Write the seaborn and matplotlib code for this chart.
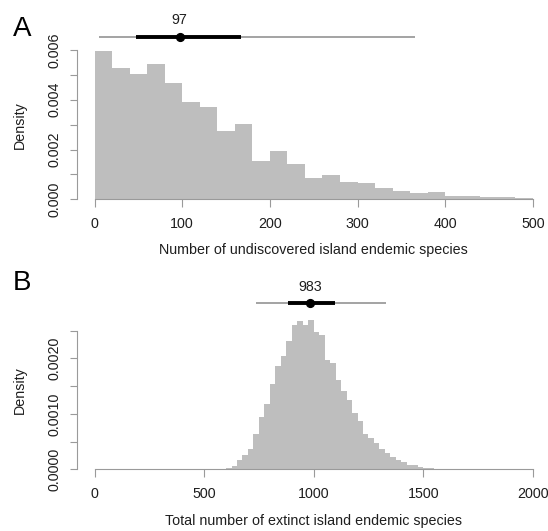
import numpy as np
import pandas as pd
import matplotlib
matplotlib.use("Agg")
import matplotlib.pyplot as plt
import seaborn as sns
from matplotlib.ticker import FixedLocator, FixedFormatter

# ---------------- data ----------------
# Panel A: undiscovered island endemic species (bin width 20)
a_bin_width = 20
a_density = [0.00597, 0.00527, 0.00502, 0.00542, 0.00466, 0.00391, 0.00372,
             0.00274, 0.00301, 0.00154, 0.00195, 0.00143, 0.00084, 0.00099,
             0.00070, 0.00066, 0.00044, 0.00035, 0.00025, 0.00028, 0.00012,
             0.00015, 0.00011, 0.00008, 0.00005]
a_start = 0
a_median = 97
a_ci_inner = [47, 167]
a_ci_outer = [5, 366]
a_xticks = [0, 100, 200, 300, 400, 500]
a_yticks = [0.000, 0.001, 0.002, 0.003, 0.004, 0.005, 0.006]
a_yticklabels = ["0.000", "", "0.002", "", "0.004", "", "0.006"]
a_xlabel = "Number of undiscovered island endemic species"

# Panel B: total extinct island endemic species (bin width 25)
b_bin_width = 25
b_density = [0.000002, 0.000003, 0.000005, 0.000008, 0.000018, 0.00006,
             0.00016, 0.00026, 0.00037, 0.00064, 0.00095, 0.00118, 0.00153,
             0.00186, 0.00205, 0.00232, 0.00260, 0.00267, 0.00261, 0.00269,
             0.00248, 0.00243, 0.00198, 0.00191, 0.00161, 0.00142, 0.00125,
             0.00101, 0.00087, 0.00064, 0.00056, 0.00047, 0.00036, 0.00030,
             0.00022, 0.00017, 0.00013, 0.00008, 0.00007, 0.00004, 0.000025,
             0.000015, 0.00001, 0.000007, 0.000005, 0.000003, 0.000002,
             0.000001]
b_start = 500
b_median = 983
b_ci_inner = [883, 1095]
b_ci_outer = [736, 1331]
b_xticks = [0, 500, 1000, 1500, 2000]
b_yticks = [0.0000, 0.0005, 0.0010, 0.0015, 0.0020, 0.0025]
b_yticklabels = ["0.0000", "", "0.0010", "", "0.0020", ""]
b_xlabel = "Total number of extinct island endemic species"

# ---------------- style ----------------
sns.set_style("white")
plt.rcParams["font.family"] = ["Liberation Sans", "DejaVu Sans"]

W, H = 548, 531
fig = plt.figure(figsize=(W / 100, H / 100), dpi=100)

BAR = "#bebebe"
AXC = "#9a9a9a"
TXT = "#1e1e1e"
FS = 10.3


def make_panel(density, start, width, xticks, yticks, yticklabels, xlabel,
               median, ci_in, ci_out, letter,
               top_px, bottom_px, ytick_top_px, interval_px, label_px,
               letter_base_px, xlabel_base_px, ylabel_center_px):
    left_px, right_px = 76.8, 545.0
    x0_px, x1_px = 94.6, 532.8
    ax = fig.add_axes([left_px / W, 1 - bottom_px / H,
                       (right_px - left_px) / W, (bottom_px - top_px) / H])
    kx = (x1_px - x0_px) / (xticks[-1] - xticks[0])
    ky = (bottom_px - ytick_top_px) / yticks[-1]

    n = len(density)
    lefts = [start + width * i for i in range(n)]
    centers = [l + width / 2 for l in lefts]
    df = pd.DataFrame({"x": centers, "d": density})
    sns.histplot(data=df, x="x", weights="d", binwidth=width,
                 binrange=(start, start + width * n), stat="count",
                 element="step", fill=True, color=BAR, alpha=1, linewidth=0,
                 ax=ax)

    ax.set_xlim(xticks[0] + (left_px - x0_px) / kx,
                xticks[0] + (right_px - x0_px) / kx)
    ax.set_ylim(0, (bottom_px - top_px) / ky)

    # R-style axes
    for s in ["top", "right"]:
        ax.spines[s].set_visible(False)
    for s in ["left", "bottom"]:
        ax.spines[s].set_color(AXC)
        ax.spines[s].set_linewidth(0.8)
    ax.spines["bottom"].set_bounds(xticks[0], xticks[-1])
    ax.spines["left"].set_bounds(yticks[0], yticks[-1])
    ax.xaxis.set_major_locator(FixedLocator(xticks))
    ax.xaxis.set_major_formatter(FixedFormatter([str(t) for t in xticks]))
    ax.yaxis.set_major_locator(FixedLocator(yticks))
    ax.yaxis.set_major_formatter(FixedFormatter(yticklabels))
    ax.tick_params(axis="both", which="major", length=5.4, width=0.8,
                   color=AXC, labelcolor=TXT, labelsize=FS, direction="out",
                   bottom=True, left=True)
    ax.tick_params(axis="x", pad=7.2)
    ax.tick_params(axis="y", pad=5.4, labelrotation=90)
    for lab in ax.get_yticklabels():
        lab.set_va("center")

    ax.set_xlabel(xlabel, fontsize=FS, color=TXT)
    ax.xaxis.label.set_va("baseline")
    ax.xaxis.set_label_coords(
        (x0_px + (xticks[-1] - xticks[0]) / 2 * kx - left_px) / (right_px - left_px),
        (bottom_px - xlabel_base_px) / (bottom_px - top_px))
    ax.set_ylabel("Density", fontsize=FS, color=TXT)
    ax.yaxis.label.set_va("center")
    ax.yaxis.set_label_coords((20 - left_px) / (right_px - left_px),
                              (bottom_px - ylabel_center_px) / (bottom_px - top_px))

    # posterior summary: median with inner / outer intervals
    tr = ax.get_xaxis_transform()
    yi = (bottom_px - interval_px) / (bottom_px - top_px)
    yl = (bottom_px - label_px) / (bottom_px - top_px)
    ax.plot(ci_out, [yi, yi], transform=tr, color="#8a8a8a", lw=1.1,
            solid_capstyle="butt", clip_on=False)
    ax.plot(ci_in, [yi, yi], transform=tr, color="black", lw=2.8,
            solid_capstyle="butt", clip_on=False)
    ax.plot([median], [yi], transform=tr, marker="o", color="black",
            markersize=5.6, clip_on=False)
    ax.text(median, yl, str(median), transform=tr, ha="center", va="center",
            fontsize=FS, color=TXT)

    fig.text(22 / W, 1 - letter_base_px / H, letter, fontsize=20,
             ha="center", va="baseline", color="black")
    return ax


make_panel(a_density, a_start, a_bin_width, a_xticks, a_yticks, a_yticklabels,
           a_xlabel, a_median, a_ci_inner, a_ci_outer, "A",
           top_px=8, bottom_px=199.3, ytick_top_px=50.0, interval_px=36.7,
           label_px=20.5, letter_base_px=36.5, xlabel_base_px=254.5,
           ylabel_center_px=125)

make_panel(b_density, b_start, b_bin_width, b_xticks, b_yticks, b_yticklabels,
           b_xlabel, b_median, b_ci_inner, b_ci_outer, "B",
           top_px=265, bottom_px=469.3, ytick_top_px=330.7, interval_px=302.7,
           label_px=286.7, letter_base_px=290.5, xlabel_base_px=524.5,
           ylabel_center_px=390)

fig.savefig("out.png", dpi=100)
